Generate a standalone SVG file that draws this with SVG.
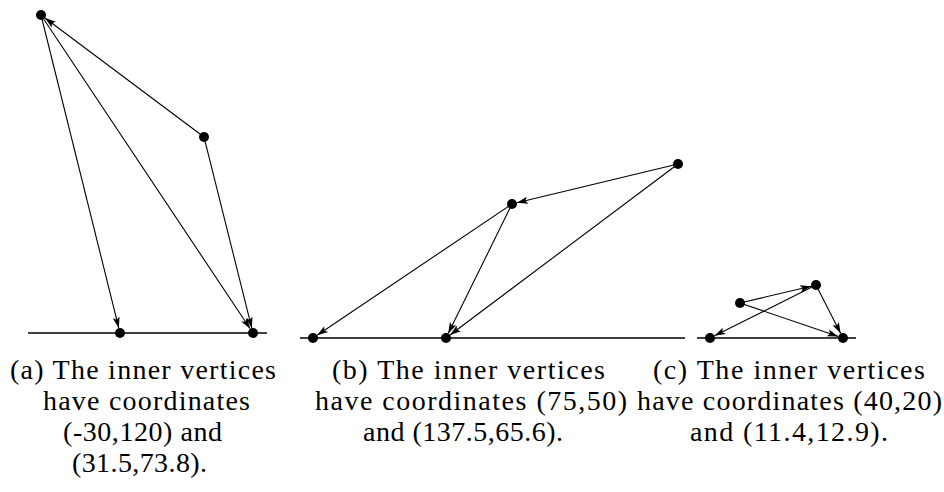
<svg xmlns="http://www.w3.org/2000/svg" width="944" height="492" viewBox="0 0 944 492">
<style>
.edge{stroke:#000;stroke-width:1.1;fill:none;marker-end:url(#arr)}
.base{stroke:#000;stroke-width:1.3}
.node{fill:#000}
.cap{font-family:"Liberation Serif","Times New Roman",serif;font-size:28px;fill:#000;text-anchor:middle}
</style>
<defs>
<marker id="arr" markerWidth="13" markerHeight="9" refX="11" refY="4.5" orient="auto" markerUnits="userSpaceOnUse">
<path d="M0,1 L11,4.5 L0,8 L2.4,4.5 Z" fill="#000"/>
</marker>
</defs>
<rect width="944" height="492" fill="#fff"/>
<g id="baselines">
<line class="base" x1="28" y1="333" x2="267" y2="333"/>
<line class="base" x1="300" y1="338" x2="685" y2="338"/>
<line class="base" x1="697" y1="338" x2="856" y2="338"/>
</g>
<g id="connectors">
<line class="edge" x1="204" y1="137" x2="45" y2="18"/>
<line class="edge" x1="41" y1="15" x2="118.8" y2="328.1"/>
<line class="edge" x1="41" y1="15" x2="250.2" y2="328.8"/>
<line class="edge" x1="204" y1="137" x2="251.8" y2="328.1"/>
<line class="edge" x1="678" y1="164" x2="516.9" y2="202.8"/>
<line class="edge" x1="512" y1="204" x2="317.1" y2="335.2"/>
<line class="edge" x1="512" y1="204" x2="448.2" y2="333.5"/>
<line class="edge" x1="678" y1="164" x2="450" y2="335"/>
<line class="edge" x1="740" y1="303" x2="811.1" y2="286.2"/>
<line class="edge" x1="816" y1="285" x2="714.5" y2="335.8"/>
<line class="edge" x1="740" y1="303" x2="838.3" y2="336.4"/>
<line class="edge" x1="816" y1="285" x2="840.7" y2="333.5"/>
</g>
<g id="a1"><circle class="node" cx="41" cy="15" r="5"/></g>
<g id="a2"><circle class="node" cx="204" cy="137" r="5"/></g>
<g id="a3"><circle class="node" cx="120" cy="333" r="5"/></g>
<g id="a4"><circle class="node" cx="253" cy="333" r="5"/></g>
<g id="b1"><circle class="node" cx="678" cy="164" r="5"/></g>
<g id="b2"><circle class="node" cx="512" cy="204" r="5"/></g>
<g id="b3"><circle class="node" cx="313" cy="338" r="5"/></g>
<g id="b4"><circle class="node" cx="446" cy="338" r="5"/></g>
<g id="c1"><circle class="node" cx="816" cy="285" r="5"/></g>
<g id="c2"><circle class="node" cx="740" cy="303" r="5"/></g>
<g id="c3"><circle class="node" cx="710" cy="338" r="5"/></g>
<g id="c4"><circle class="node" cx="843" cy="338" r="5"/></g>
<g id="caption-a">
<text class="cap" x="143" y="379" textLength="266" lengthAdjust="spacing">(a) The inner vertices</text>
<text class="cap" x="146.5" y="410" textLength="207" lengthAdjust="spacing">have coordinates</text>
<text class="cap" x="142.5" y="441" textLength="159" lengthAdjust="spacing">(-30,120) and</text>
<text class="cap" x="139.5" y="472" textLength="135" lengthAdjust="spacing">(31.5,73.8).</text>
</g>
<g id="caption-b">
<text class="cap" x="468.5" y="379" textLength="273" lengthAdjust="spacing">(b) The inner vertices</text>
<text class="cap" x="471" y="410" textLength="312" lengthAdjust="spacing">have coordinates (75,50)</text>
<text class="cap" x="463" y="441" textLength="200" lengthAdjust="spacing">and (137.5,65.6).</text>
</g>
<g id="caption-c">
<text class="cap" x="789" y="379" textLength="272" lengthAdjust="spacing">(c) The inner vertices</text>
<text class="cap" x="789.5" y="410" textLength="305" lengthAdjust="spacing">have coordinates (40,20)</text>
<text class="cap" x="789" y="441" textLength="198" lengthAdjust="spacing">and (11.4,12.9).</text>
</g>
</svg>
